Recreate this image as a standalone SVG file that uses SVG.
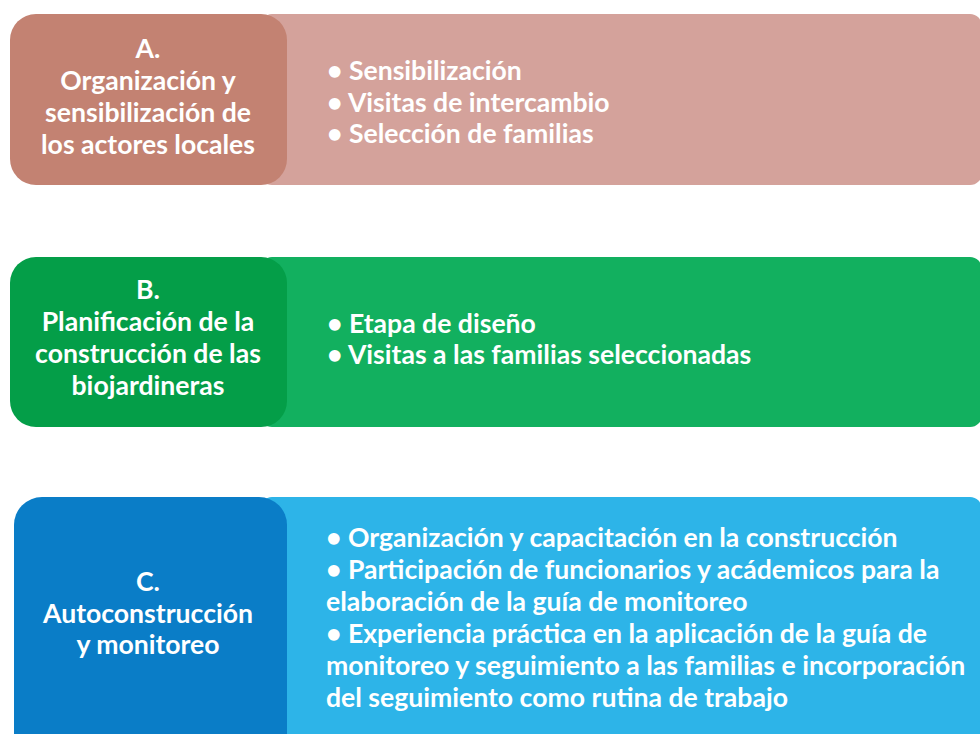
<svg xmlns="http://www.w3.org/2000/svg" width="980" height="734" viewBox="0 0 980 734">
<style>
text{font-family:Lato,"Noto Sans","Liberation Sans",sans-serif;font-weight:700;font-size:26.6px;fill:#ffffff}
.c{text-anchor:middle}
</style>
<rect width="980" height="734" fill="#ffffff"/>
<g id="connectors"></g>
<g id="nodeA">
<rect x="260" y="14" width="722" height="171" rx="12" fill="#d4a29b"/>
<rect x="10" y="14" width="277" height="171" rx="26" fill="#c38272"/>
<text class="c" x="148"><tspan x="148" y="58">A.</tspan><tspan x="148" y="90">Organización y</tspan><tspan x="148" y="122">sensibilización de</tspan><tspan x="148" y="154">los actores locales</tspan></text>
<text x="327"><tspan x="327" y="80">• Sensibilización</tspan><tspan x="327" y="112">• Visitas de intercambio</tspan><tspan x="327" y="143">• Selección de familias</tspan></text>
</g>
<g id="nodeB">
<rect x="260" y="257" width="722" height="170" rx="12" fill="#12b05f"/>
<rect x="10" y="257" width="277" height="170" rx="26" fill="#049e48"/>
<text class="c" x="148"><tspan x="148" y="299">B.</tspan><tspan x="148" y="331">Planificación de la</tspan><tspan x="148" y="363">construcción de las</tspan><tspan x="148" y="395">biojardineras</tspan></text>
<text x="327"><tspan x="327" y="333">• Etapa de diseño</tspan><tspan x="327" y="364">• Visitas a las familias seleccionadas</tspan></text>
</g>
<g id="nodeC">
<rect x="260" y="497" width="722" height="270" rx="12" fill="#2db4e8"/>
<rect x="14" y="497" width="273" height="270" rx="28" fill="#0a7dc7"/>
<text class="c" x="148"><tspan x="148" y="591">C.</tspan><tspan x="148" y="623">Autoconstrucción</tspan><tspan x="148" y="654">y monitoreo</tspan></text>
<text x="326"><tspan x="326" y="547">• Organización y capacitación en la construcción</tspan><tspan x="326" y="579">• Participación de funcionarios y acádemicos para la</tspan><tspan x="326" y="611">elaboración de la guía de monitoreo</tspan><tspan x="326" y="643">• Experiencia práctica en la aplicación de la guía de</tspan><tspan x="326" y="675">monitoreo y seguimiento a las familias e incorporación</tspan><tspan x="326" y="707">del seguimiento como rutina de trabajo</tspan></text>
</g>
</svg>
